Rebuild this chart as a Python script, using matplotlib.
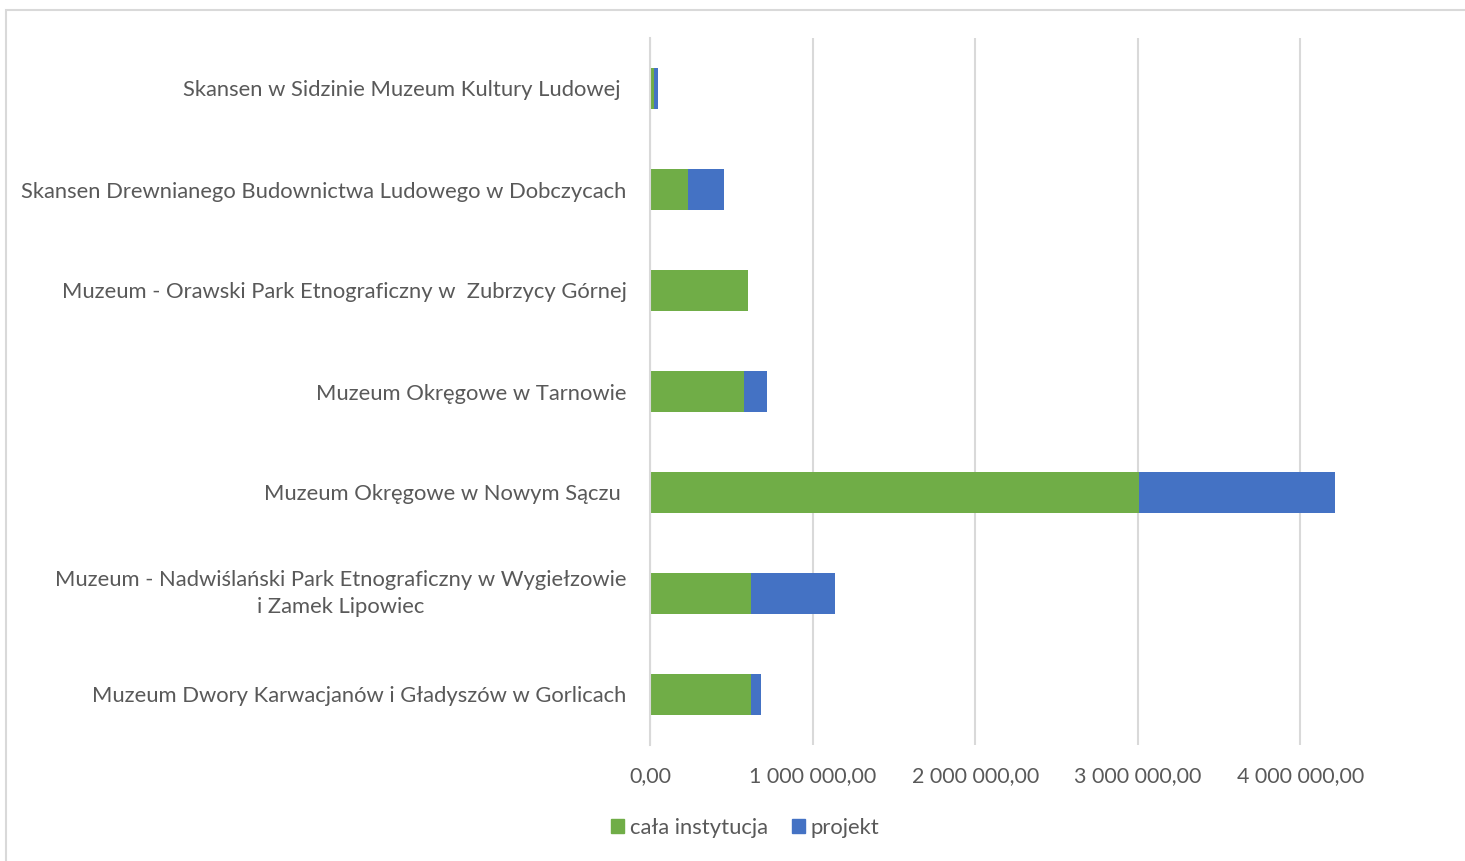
import numpy as np
import matplotlib.pyplot as plt
from matplotlib.patches import Rectangle, Patch
from matplotlib.ticker import FuncFormatter

plt.rcParams['font.family'] = ['Lato', 'DejaVu Sans']

# Data (top to bottom as shown in the chart)
labels = [
    'Skansen w Sidzinie Muzeum Kultury Ludowej ',
    'Skansen Drewnianego Budownictwa Ludowego w Dobczycach',
    'Muzeum - Orawski Park Etnograficzny w  Zubrzycy Górnej',
    'Muzeum Okręgowe w Tarnowie',
    'Muzeum Okręgowe w Nowym Sączu ',
    'Muzeum - Nadwiślański Park Etnograficzny w Wygiełzowie\ni Zamek Lipowiec',
    'Muzeum Dwory Karwacjanów i Gładyszów w Gorlicach',
]
cala_instytucja = [25000, 235000, 605000, 580000, 3005000, 620000, 620000]
projekt = [25000, 222000, 0, 142000, 1210000, 515000, 65000]
series_names = ['cała instytucja', 'projekt']

green = '#70AD47'
blue = '#4472C4'
text_col = '#595959'

fig = plt.figure(figsize=(14.65, 8.61), dpi=100)
ax = fig.add_axes([650 / 1465, 1 - 745 / 861, (1385 - 650) / 1465, (745 - 38) / 861])

y = np.arange(len(labels))[::-1]
ax.barh(y, cala_instytucja, height=0.4, color=green, label=series_names[0])
ax.barh(y, projekt, height=0.4, left=cala_instytucja, color=blue, label=series_names[1])

ax.set_ylim(-0.5, len(labels) - 0.5)
ax.set_xlim(0, 4520000)
ax.set_xticks([0, 1000000, 2000000, 3000000, 4000000])


def fmt(v, pos):
    if v == 0:
        return '0,00'
    return '{:,.0f}'.format(v).replace(',', ' ') + ',00'


ax.xaxis.set_major_formatter(FuncFormatter(fmt))
ax.set_yticks(y)
ax.set_yticklabels(labels, fontsize=15.8, color=text_col, ha='right')
for t in ax.get_yticklabels():
    t.set_multialignment('center')
    t.set_linespacing(1.45)
    if '\n' in t.get_text():
        t.set_va('center')
ax.tick_params(axis='y', length=0, pad=17)
ax.tick_params(axis='x', length=0, pad=15, labelsize=15.4, labelcolor=text_col)

ax.grid(axis='x', color='#D9D9D9', linewidth=1.5)
ax.set_axisbelow(True)
for s in ['top', 'right', 'bottom']:
    ax.spines[s].set_visible(False)
ax.spines['left'].set_color('#D9D9D9')
ax.spines['left'].set_linewidth(1.5)

handles = [Patch(color=green, label=series_names[0]), Patch(color=blue, label=series_names[1])]
fig.legend(handles=handles, loc='center', bbox_to_anchor=(745 / 1465, 1 - 828 / 861), ncol=2,
           frameon=False, fontsize=15.8, labelcolor=text_col, handlelength=0.6, handleheight=0.6,
           handletextpad=0.25, columnspacing=1.1)

# chart frame
fig.patches.append(Rectangle((6 / 1465, -0.05), 1.1, 1 - 10 / 861 + 0.05, transform=fig.transFigure,
                             fill=False, edgecolor='#D9D9D9', linewidth=1.5))

plt.savefig('out.png', dpi=100)
